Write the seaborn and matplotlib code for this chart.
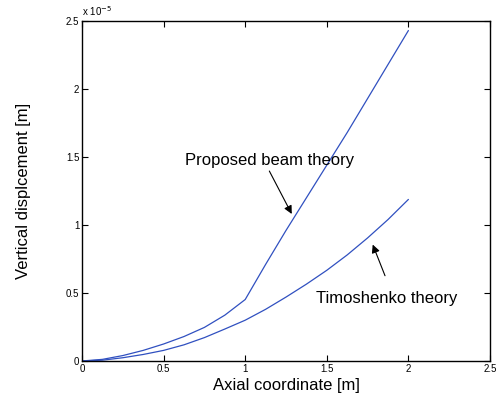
import matplotlib
matplotlib.use("Agg")
import matplotlib.pyplot as plt
import seaborn as sns
import pandas as pd

# ── Data (vertical displacement in units of 1e-5 m) ───────────────────────────
axial_x = [0.0, 0.125, 0.25, 0.375, 0.5, 0.625, 0.75, 0.875, 1.0,
           1.125, 1.25, 1.375, 1.5, 1.625, 1.75, 1.875, 2.0]
proposed_w = [0.0, 0.012, 0.040, 0.078, 0.125, 0.180, 0.247, 0.337, 0.452,
              0.71, 0.96, 1.20, 1.44, 1.68, 1.93, 2.18, 2.43]
timoshenko_w = [0.0, 0.006, 0.024, 0.048, 0.078, 0.119, 0.172, 0.235, 0.30,
                0.38, 0.47, 0.565, 0.667, 0.78, 0.905, 1.04, 1.188]

x_ticks = [0, 0.5, 1, 1.5, 2, 2.5]
y_ticks = [0, 0.5, 1, 1.5, 2, 2.5]
LINE_COLOR = "#3050c0"

sns.set_style("ticks")
plt.rcParams["font.family"] = ["Liberation Sans", "DejaVu Sans"]
plt.rcParams.update({"text.color": "black", "axes.labelcolor": "black",
                     "xtick.color": "black", "ytick.color": "black"})

df = pd.DataFrame({
    "x": axial_x * 2,
    "w": proposed_w + timoshenko_w,
    "theory": ["Proposed"] * len(axial_x) + ["Timoshenko"] * len(axial_x),
})

fig = plt.figure(figsize=(5, 4), dpi=100)
ax = fig.add_axes([0.164, 0.0975, 0.816, 0.85])

sns.lineplot(data=df, x="x", y="w", units="theory", estimator=None, sort=False,
             color=LINE_COLOR, lw=0.9, ax=ax)

ax.set_xlim(0, 2.5)
ax.set_ylim(0, 2.5)
ax.set_xticks(x_ticks)
ax.set_yticks(y_ticks)
ax.set_xticklabels([f"{t:g}" for t in x_ticks], fontsize=7)
ax.set_yticklabels([f"{t:g}" for t in y_ticks], fontsize=7)
ax.tick_params(direction="in", top=True, right=True, length=4, width=0.8, pad=2)
for s in ax.spines.values():
    s.set_linewidth(1.0)
    s.set_color("black")

ax.set_xlabel("Axial coordinate [m]", fontsize=12, labelpad=3)
ax.set_ylabel("Vertical displcement [m]", fontsize=12, labelpad=25)
ax.text(0.0, 1.01, r"x 10$^{-5}$", transform=ax.transAxes, fontsize=7,
        ha="left", va="bottom")

# ── Annotations ───────────────────────────────────────────────────────────────
arrow = dict(arrowstyle="-|>", color="black", lw=0.8, mutation_scale=12)
ax.text(1.151, 1.474, "Proposed beam theory", fontsize=12, ha="center", va="center")
ax.annotate("", xy=(1.293, 1.063), xytext=(1.14, 1.415), arrowprops=arrow)
ax.text(1.866, 0.462, "Timoshenko theory", fontsize=12, ha="center", va="center")
ax.annotate("", xy=(1.775, 0.875), xytext=(1.863, 0.608), arrowprops=arrow)

fig.savefig("out.png", dpi=100)
